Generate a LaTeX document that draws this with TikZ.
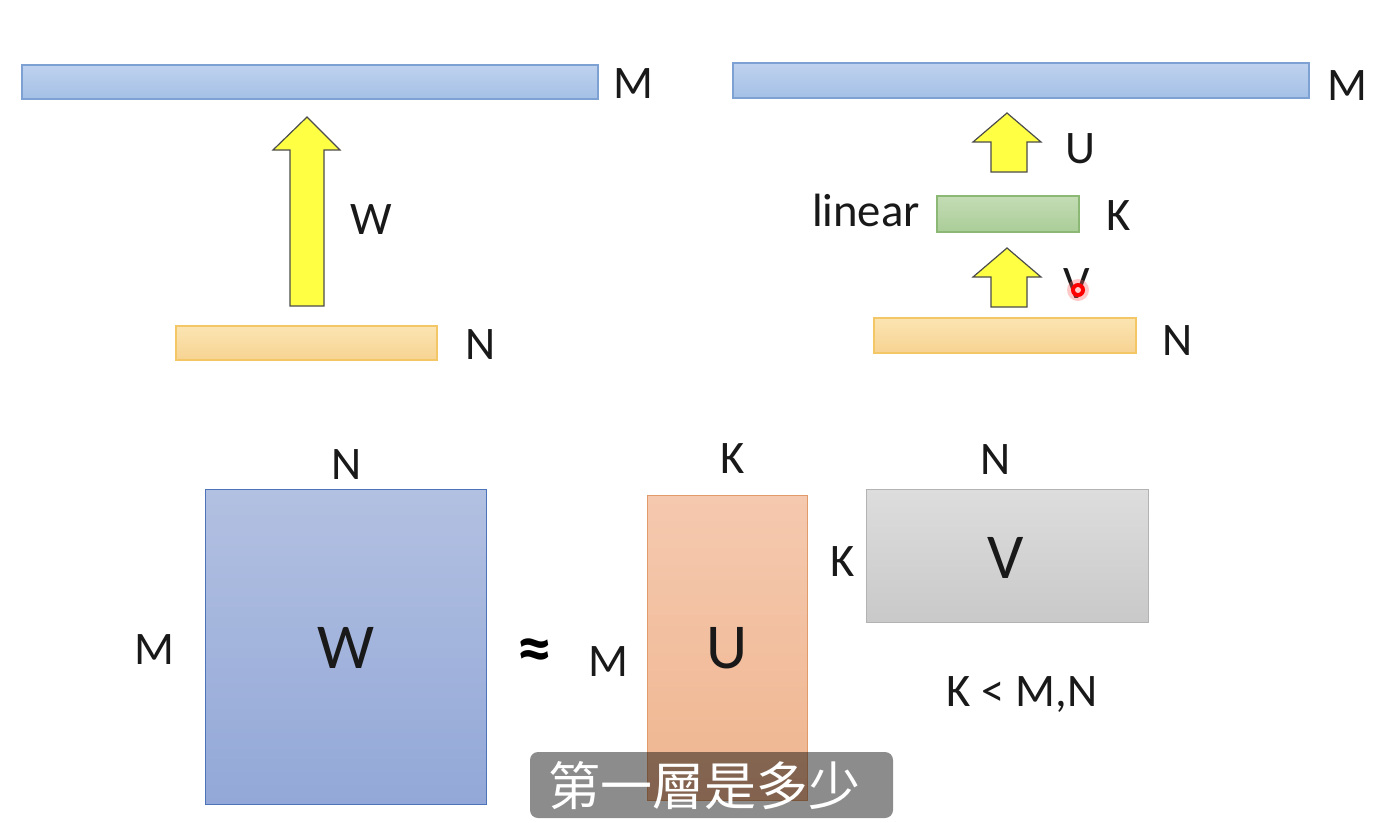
\documentclass[tikz,border=0pt]{standalone}
\usepackage{fontspec}
\setmainfont{Carlito}
\newfontfamily\cjkfont{Noto Sans CJK TC}
\begin{document}
\begin{tikzpicture}[x=0.75pt,y=-0.75pt,
  lbl/.style={font=\fontsize{35}{40}\selectfont, inner sep=0pt, anchor=base, text=black!90},
  biglbl/.style={font=\fontsize{48}{56}\selectfont, inner sep=0pt, anchor=base, text=black!90},
  bluebar/.style={top color=bluetop, bottom color=bluebot, draw=blueedge, line width=0.8pt},
  orangebar/.style={top color=orangetop, bottom color=orangebot, draw=orangeedge, line width=0.8pt},
  greenbar/.style={top color=greentop, bottom color=greenbot, draw=greenedge, line width=0.8pt},
  yarrow/.style={fill=arrowyellow, draw=black!70, line width=0.9pt, line join=miter},
]
\definecolor{bluetop}{HTML}{BFD2EE}
\definecolor{bluebot}{HTML}{A4C0E6}
\definecolor{blueedge}{HTML}{7DA1D3}
\definecolor{orangetop}{HTML}{FBE4B2}
\definecolor{orangebot}{HTML}{F7D392}
\definecolor{orangeedge}{HTML}{F3C765}
\definecolor{greentop}{HTML}{C4DCB5}
\definecolor{greenbot}{HTML}{AACD98}
\definecolor{greenedge}{HTML}{8CB876}
\definecolor{arrowyellow}{HTML}{FFFF44}
\definecolor{wtop}{HTML}{B2C0E1}
\definecolor{wbot}{HTML}{93A8D8}
\definecolor{wedge}{HTML}{4D73B8}
\definecolor{utop}{HTML}{F5C9AF}
\definecolor{ubot}{HTML}{EFB58F}
\definecolor{uedge}{HTML}{E19B6B}
\definecolor{vtop}{HTML}{DDDDDD}
\definecolor{vbot}{HTML}{C9C9C9}
\definecolor{vedge}{HTML}{B3B3B3}

\useasboundingbox[fill=white] (0,0) rectangle (1392,822);

% ---------- top left ----------
\path[bluebar] (22,65) rectangle (598,99);
\node[lbl] (mtl) at (633,98) {M};
\draw[yarrow] (307,117) -- (340,150) -- (324,150) -- (324,306) -- (290,306) -- (290,150) -- (273,150) -- cycle;
\node[lbl] (wlbl) at (371,234) {W};
\path[orangebar] (176,326) rectangle (437,360);
\node[lbl] (ntl) at (481,359) {N};

% ---------- top right ----------
\path[bluebar] (733,63) rectangle (1309,98);
\node[lbl] (mtr) at (1347,100) {M};
\draw[yarrow] (1007,113) -- (1041,142) -- (1027,142) -- (1027,172) -- (991,172) -- (991,142) -- (973,142) -- cycle;
\node[lbl] (ulbl) at (1080,163) {U};
\node[lbl] (linear) at (866,226) {linear};
\path[greenbar] (937,196) rectangle (1079,232);
\node[lbl] (ktr) at (1119,230) {K};
\draw[yarrow] (1007,248) -- (1041,277) -- (1027,277) -- (1027,307) -- (991,307) -- (991,277) -- (973,277) -- cycle;
\node[lbl] (vlbl) at (1077,298) {V};
\fill[red!60!white, opacity=0.35] (1078,290) circle (11);
\fill[red] (1078,290) circle (7);
\fill[white!80!red] (1078,290) circle (3);
\path[orangebar] (874,318) rectangle (1136,353);
\node[lbl] (ntr) at (1178,355) {N};

% ---------- bottom ----------
\node[draw=wedge, line width=0.9pt, top color=wtop, bottom color=wbot,
      minimum width=281*0.75pt, minimum height=315*0.75pt, inner sep=0pt, anchor=north west]
      (wbox) at (205,489) {};
\node[biglbl] (wtxt) at (346,668) {W};
\node[lbl] (nw) at (347,479) {N};
\node[lbl] (mw) at (154,664) {M};
\node[font=\bfseries\fontsize{52}{56}\selectfont, inner sep=0pt] (approx) at (535,655) {≈};

\node[draw=uedge, line width=0.9pt, top color=utop, bottom color=ubot,
      minimum width=160*0.75pt, minimum height=305*0.75pt, inner sep=0pt, anchor=north west]
      (ubox) at (647,495) {};
\node[biglbl] (utxt) at (727,668) {U};
\node[lbl] (ku) at (733,473) {K};
\node[lbl] (mu) at (608,676) {M};

\node[draw=vedge, line width=0.9pt, top color=vtop, bottom color=vbot,
      minimum width=282*0.75pt, minimum height=133*0.75pt, inner sep=0pt, anchor=north west]
      (vbox) at (866,489) {};
\node[biglbl] (vtxt) at (1006,578) {V};
\node[lbl] (nv) at (996,474) {N};
\node[lbl] (kv) at (843,576) {K};
\node[lbl] (cond) at (1022,706) {K < M,N};

% ---------- subtitle ----------
\fill[black, opacity=0.45, rounded corners=6pt] (530,752) rectangle (893,818);
\node[font=\cjkfont\fontsize{39}{44}\selectfont, text=white, inner sep=0pt] (sub) at (704,786) {第一層是多少};
\end{tikzpicture}
\end{document}
